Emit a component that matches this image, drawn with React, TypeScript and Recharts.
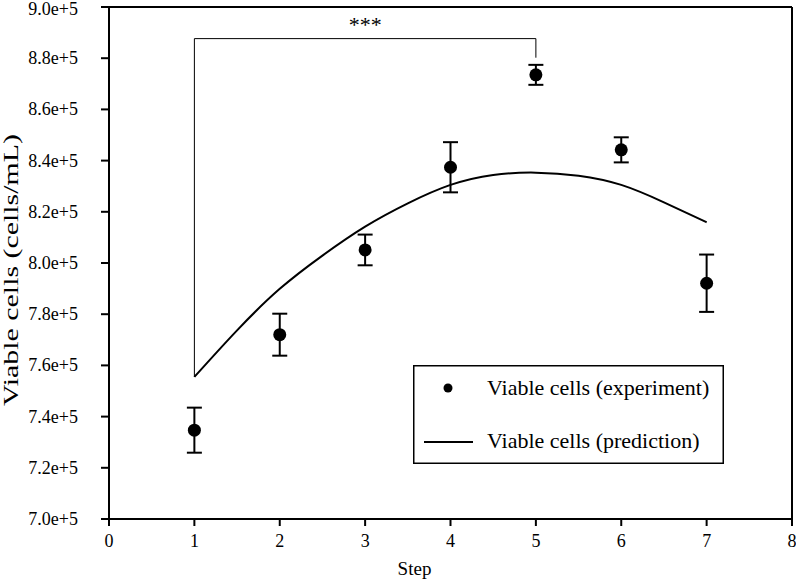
import {
  ComposedChart,
  Scatter,
  Line,
  XAxis,
  YAxis,
  ErrorBar,
  ReferenceLine,
  Legend,
} from "recharts";

const steps = [1, 2, 3, 4, 5, 6, 7];
const viableCells = [734700, 772000, 805100, 837400, 873500, 844200, 792100];
const viableErr = [8800, 8200, 6000, 9800, 3900, 4900, 11200];

// model prediction, read at half steps
const predSteps = [1, 1.5, 2, 2.5, 3, 3.5, 4, 4.5, 5, 5.5, 6, 6.5, 7];
const predCells = [
  755500, 773700, 789900, 802900, 814200, 823300, 830500, 834400, 835300,
  834100, 830500, 823700, 815900,
];

const xTicks = [0, 1, 2, 3, 4, 5, 6, 7, 8];
const yTicks = [
  700000, 720000, 740000, 760000, 780000, 800000, 820000, 840000, 860000,
  880000, 900000,
];

// significance bracket between step 1 and step 5
const sigFrom = 1;
const sigTo = 5;
const sigTop = 887650;
const sigLeftEnd = 755500;
const sigRightEnd = 880200;
const sigText = "***";

const expData = steps.map((s, i) => ({
  step: s,
  cells: viableCells[i],
  err: viableErr[i],
}));
const predData = predSteps.map((s, i) => ({ step: s, pred: predCells[i] }));

const FONT = "'Liberation Serif', 'Times New Roman', serif";

const fmtY = (v: number) => (v / 1e5).toFixed(1) + "e+5";

function Dot(props: any) {
  return <circle cx={props.cx} cy={props.cy} r={6.5} fill="#000" />;
}

function YTick(props: any) {
  // keep the top label inside the picture
  const y = Math.max(props.y, 9);
  return (
    <text
      x={props.x}
      y={y}
      textAnchor="end"
      dominantBaseline="central"
      fontFamily={FONT}
      fontSize={18}
      fill="#000"
    >
      {fmtY(props.payload.value)}
    </text>
  );
}

function XTick(props: any) {
  return (
    <text
      x={props.x}
      y={props.y + 14}
      textAnchor="middle"
      fontFamily={FONT}
      fontSize={18}
      fill="#000"
    >
      {props.payload.value}
    </text>
  );
}

function LegendBox() {
  return (
    <svg width={311} height={99} style={{ display: "block" }}>
      <rect x={0.75} y={0.75} width={309.5} height={97.5} fill="#fff" stroke="#000" strokeWidth={1.5} />
      <circle cx={35} cy={23} r={4.5} fill="#000" />
      <text x={74} y={30} fontFamily={FONT} fontSize={22} fill="#000">
        Viable cells (experiment)
      </text>
      <line x1={11} y1={77} x2={60} y2={77} stroke="#000" strokeWidth={2} />
      <text x={74} y={83} fontFamily={FONT} fontSize={22} fill="#000">
        Viable cells (prediction)
      </text>
    </svg>
  );
}

function YTitle(props: any) {
  const vb = props.viewBox || { x: 0, y: 0, width: 0, height: 0 };
  const cx = vb.x + 11;
  const cy = vb.y + vb.height / 2 + 7;
  return (
    <text
      x={cx}
      y={cy}
      transform={`rotate(-90 ${cx} ${cy})`}
      textAnchor="middle"
      dominantBaseline="central"
      fontFamily={FONT}
      fontSize={21}
      fill="#000"
      textLength={272}
      lengthAdjust="spacingAndGlyphs"
    >
      Viable cells (cells/mL)
    </text>
  );
}

function XTitle(props: any) {
  const vb = props.viewBox || { x: 0, y: 0, width: 0, height: 0 };
  return (
    <text
      x={vb.x + vb.width / 2 - 36}
      y={vb.y + vb.height - 7}
      textAnchor="middle"
      fontFamily={FONT}
      fontSize={19}
      fill="#000"
    >
      Step
    </text>
  );
}

export default function App() {
  return (
    <div style={{ position: "absolute", left: 0, top: 0, background: "#fff" }}>
      <ComposedChart
        width={796}
        height={582}
        margin={{ top: 7, right: 4, left: 0, bottom: 0 }}
      >
        <XAxis
          type="number"
          dataKey="step"
          domain={[0, 8]}
          ticks={xTicks}
          interval={0}
          height={63}
          axisLine={{ stroke: "#000", strokeWidth: 2 }}
          tickLine={{ stroke: "#000", strokeWidth: 2 }}
          tickSize={7}
          tickMargin={7}
          tick={<XTick />}
          label={{ content: (p: any) => <XTitle {...p} /> }}
        />
        <YAxis
          type="number"
          domain={[700000, 900000]}
          ticks={yTicks}
          interval={0}
          width={109}
          axisLine={{ stroke: "#000", strokeWidth: 2 }}
          tickLine={{ stroke: "#000", strokeWidth: 2 }}
          tickSize={8}
          tickMargin={23}
          tick={<YTick />}
          label={{ content: (p: any) => <YTitle {...p} /> }}
        />

        {/* box frame: top and right */}
        <ReferenceLine y={900000} stroke="#000" strokeWidth={2} ifOverflow="visible" />
        <ReferenceLine x={8} stroke="#000" strokeWidth={2} ifOverflow="visible" />

        {/* significance bracket */}
        <ReferenceLine
          segment={[
            { x: sigFrom, y: sigTop },
            { x: sigTo, y: sigTop },
          ]}
          stroke="#000"
          strokeWidth={1}
          label={{
            value: sigText,
            position: "top",
            offset: 7,
            fill: "#000",
            fontSize: 22,
            fontFamily: FONT,
          }}
        />
        <ReferenceLine
          segment={[
            { x: sigFrom, y: sigLeftEnd },
            { x: sigFrom, y: sigTop },
          ]}
          stroke="#000"
          strokeWidth={1}
        />
        <ReferenceLine
          segment={[
            { x: sigTo, y: sigRightEnd },
            { x: sigTo, y: sigTop },
          ]}
          stroke="#000"
          strokeWidth={1}
        />

        <Line
          data={predData}
          dataKey="pred"
          type="natural"
          stroke="#000"
          strokeWidth={2}
          dot={false}
          activeDot={false}
          isAnimationActive={false}
        />
        <Scatter
          data={expData}
          dataKey="cells"
          fill="#000"
          shape={Dot}
          isAnimationActive={false}
        >
          <ErrorBar dataKey="err" direction="y" width={7.5} stroke="#000" strokeWidth={2} />
        </Scatter>

        <Legend
          layout="vertical"
          align="center"
          verticalAlign="middle"
          content={() => <LegendBox />}
          wrapperStyle={{ left: 413, top: 365, width: 311, height: 99 }}
        />
      </ComposedChart>
    </div>
  );
}
